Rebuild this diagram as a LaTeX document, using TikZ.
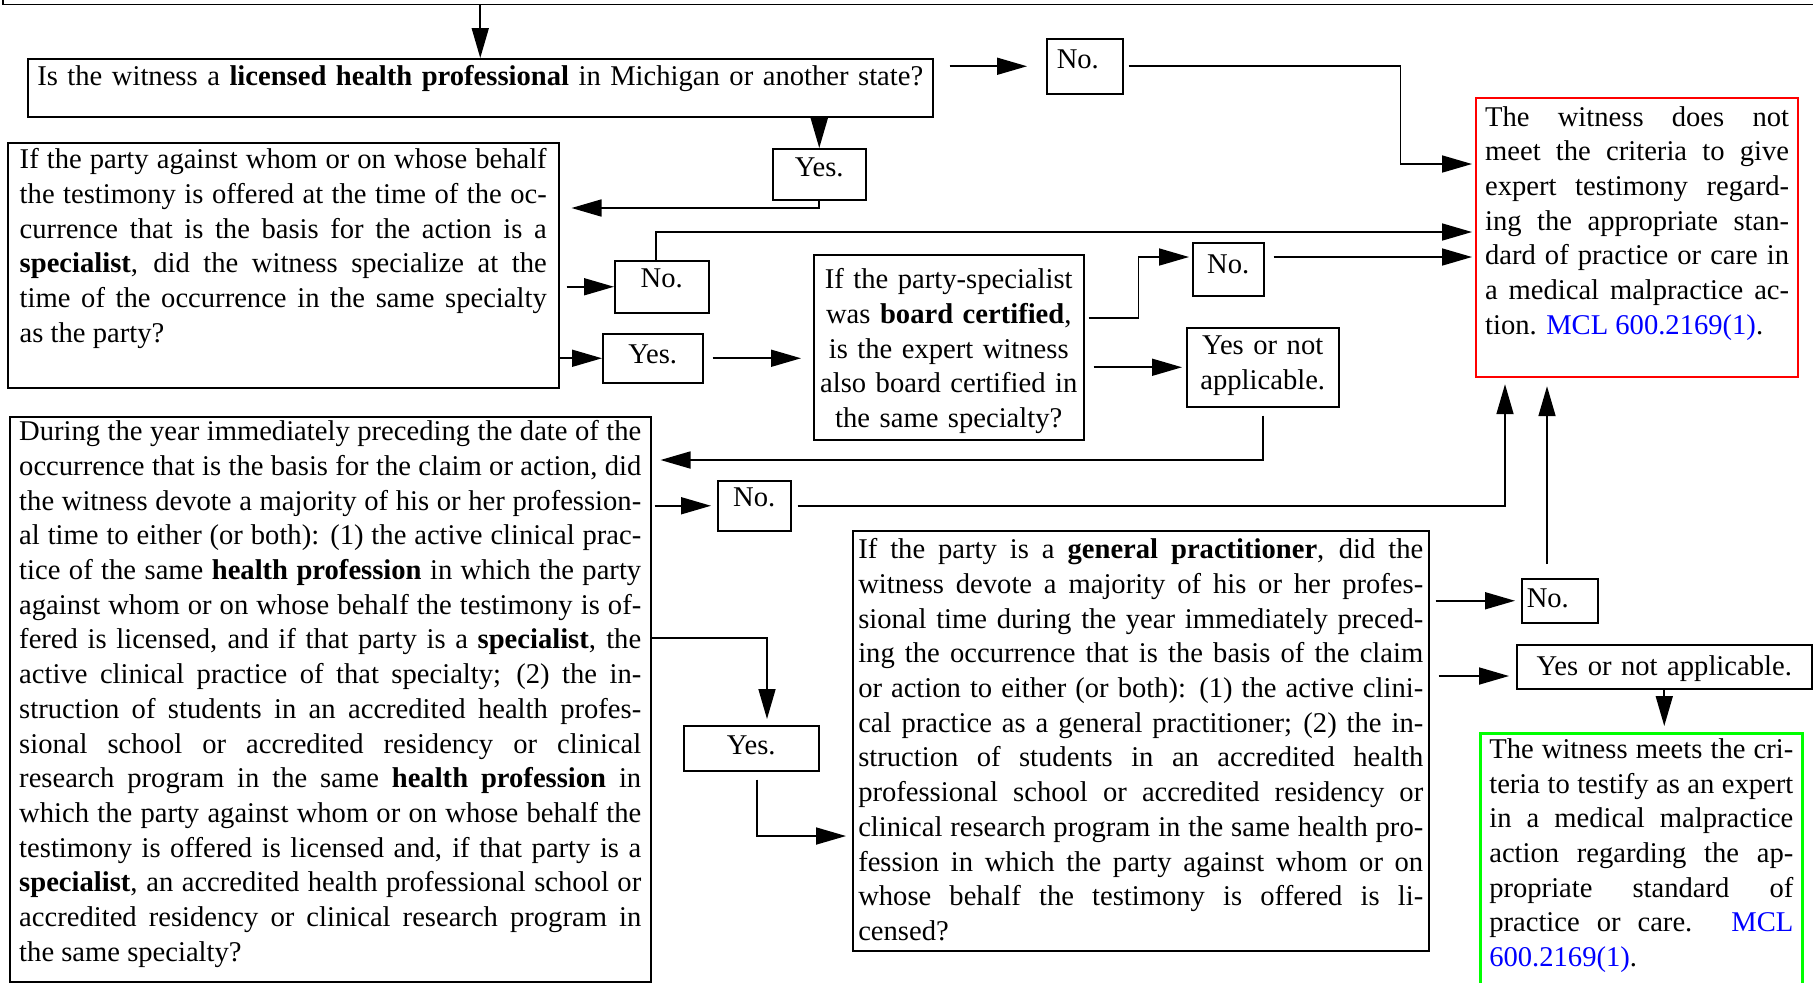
\documentclass[tikz,border=0pt]{standalone}
\usepackage{fontspec}
\setmainfont{Liberation Serif}
\usepackage{xcolor}
\usetikzlibrary{arrows.meta, calc}
\hyphenpenalty=10000

\begin{document}
\begin{tikzpicture}[
                x=0.5pt, y=-0.5pt,
                box/.style={draw, line width=0.75pt, anchor=north west, inner xsep=5pt, inner ysep=0pt, align=justify, font={\fontsize{14.3pt}{17.35pt}\selectfont}},
                arrow/.style={-{Triangle[length=15pt,width=8.5pt]}, line width=0.85pt}
            ]
            \useasboundingbox (0,0) rectangle (1813,982);

            % Top (cut off) box
            \node[box, anchor=south west, minimum width=930pt, minimum height=40pt] (topbox) at (2,5) {};

            % Licence question
            \node[box, align=center, text width=450pt, inner xsep=1.25pt, text height=13.5pt, text depth=15.5pt] (q1) at (27,58) {Is the witness a \textbf{licensed health professional} in Michigan or another state?};
            \node[box, align=left, text width=28pt, text height=15pt, text depth=12.5pt] (no1) at (1046,38) {No.};
            \node[box, align=center, text width=36.5pt, text height=14pt, text depth=11.5pt] (yes1) at (772,148) {Yes.};

            % Result: does not meet the criteria
            \node[box, draw=red, line width=1.1pt, text width=152pt, inner xsep=4.5pt, text height=14pt, text depth=125.5pt] (red) at (1475,97) {The witness does not\linebreak meet the criteria to give\linebreak expert testimony regard-\linebreak ing the appropriate stan-\linebreak dard of practice or care in\linebreak a medical malpractice ac-\linebreak tion. \textcolor{blue}{MCL 600.2169(1)}.};

            % Specialty question
            \node[box, text width=263.5pt, inner xsep=6pt, text height=13pt, text depth=109.5pt] (q2) at (7,142) {If the party against whom or on whose behalf\linebreak the testimony is offered at the time of the oc-\linebreak currence that is the basis for the action is a\linebreak \textbf{specialist}, did the witness specialize at the\linebreak time of the occurrence in the same specialty\linebreak as the party?};
            \node[box, align=center, text width=37pt, text height=13.5pt, text depth=12.5pt] (no2) at (614,260) {No.};
            \node[box, align=center, text width=40pt, text height=15pt, text depth=9.5pt] (yes2) at (602,333) {Yes.};

            % Board certification question
            \node[box, align=center, text width=133pt, inner xsep=1pt, text height=17pt, text depth=75.5pt] (q3) at (813,254) {If the party-specialist\\was \textbf{board certified},\\is the expert witness\\also board certified in\\the same specialty?};
            \node[box, align=center, text width=25.5pt, text height=15.5pt, text depth=11pt] (no3) at (1192,242) {No.};
            \node[box, align=center, text width=66pt, text height=13.5pt, text depth=26pt] (yes3) at (1186,327) {Yes or not\\applicable.};

            % Professional time question
            \node[box, text width=311pt, inner xsep=4.75pt, text height=12pt, text depth=270.5pt] (q4) at (9,416) {During the year immediately preceding the date of the\linebreak occurrence that is the basis for the claim or action, did\linebreak the witness devote a majority of his or her profession-\linebreak al time to either (or both): (1) the active clinical prac-\linebreak tice of the same \textbf{health profession} in which the party\linebreak against whom or on whose behalf the testimony is of-\linebreak fered is licensed, and if that party is a \textbf{specialist}, the\linebreak active clinical practice of that specialty; (2) the in-\linebreak struction of students in an accredited health profes-\linebreak sional school or accredited residency or clinical\linebreak research program in the same \textbf{health profession} in\linebreak which the party against whom or on whose behalf the\linebreak testimony is offered is licensed and, if that party is a\linebreak \textbf{specialist}, an accredited health professional school or\linebreak accredited residency or clinical research program in\linebreak the same specialty?};
            \node[box, align=center, text width=26.5pt, text height=13pt, text depth=12pt] (no4) at (717,480) {No.};
            \node[box, align=center, text width=57.5pt, text height=14.5pt, text depth=8pt] (yes4) at (683,725) {Yes.};

            % General practitioner question
            \node[box, text width=282.5pt, inner xsep=2.75pt, text height=14pt, text depth=196pt] (q5) at (852,530) {If the party is a \textbf{general practitioner}, did the\linebreak witness devote a majority of his or her profes-\linebreak sional time during the year immediately preced-\linebreak ing the occurrence that is the basis of the claim\linebreak or action to either (or both): (1) the active clini-\linebreak cal practice as a general practitioner; (2) the in-\linebreak struction of students in an accredited health\linebreak professional school or accredited residency or\linebreak clinical research program in the same health pro-\linebreak fession in which the party against whom or on\linebreak whose behalf the testimony is offered is li-\linebreak censed?};
            \node[box, align=left, text width=33pt, inner xsep=2.5pt, text height=14.5pt, text depth=7.5pt] (no5) at (1521,578) {No.};
            \node[box, align=center, text width=137.5pt, text height=15.5pt, text depth=6.5pt] (yes5) at (1516,644) {Yes or not applicable.};

            % Result: meets the criteria
            \node[box, draw=green, line width=1.3pt, text width=152pt, inner xsep=4.5pt, text height=12.5pt, text depth=122.5pt] (green) at (1479,732) {The witness meets the cri-\linebreak teria to testify as an expert\linebreak in a medical malpractice\linebreak action regarding the ap-\linebreak propriate standard of\linebreak practice or care. \textcolor{blue}{MCL}\linebreak \textcolor{blue}{600.2169(1)}.};

            % Connections
            \draw[arrow] (q1.north |- topbox.south) -- (q1.north);
            \draw[arrow, shorten <=8pt, shorten >=9.5pt] (q1.east |- no1.west) -- (no1.west);
            \draw[arrow, shorten <=2.5pt, shorten >=1.5pt] (no1.east) -- ++(277,0) |- ($(red.north west)+(0,67)$);
            \draw[arrow] (q1.south -| yes1.north) -- (yes1.north);
            \draw[arrow, shorten >=6pt] (yes1.south) |- ($(q2.north east)+(0,66)$);

            \draw[arrow, shorten <=3.5pt] (q2.east |- no2.west) -- (no2.west);
            \draw[arrow, shorten >=1.5pt] ($(no2.north west)+(42,0)$) |- ($(red.north west)+(0,135)$);
            \draw[arrow] (q2.east |- yes2.west) -- (yes2.west);
            \draw[arrow, shorten <=4.5pt, shorten >=6pt] (yes2.east) -- (yes2.east -| q3.west);

            \draw[arrow, shorten <=2pt, shorten >=1.5pt] ($(q3.north east)+(0,64)$) -- ++(54,0) |- ($(no3.north west)+(0,15)$);
            \draw[arrow, shorten <=4.5pt, shorten >=1.5pt] ($(no3.north east)+(0,15)$) -- ($(red.north west)+(0,160)$);
            \draw[arrow, shorten <=4.5pt, shorten >=2pt] (q3.east |- yes3.west) -- (yes3.west);
            \draw[arrow, shorten <=4pt, shorten >=4.5pt] (yes3.south) |- ($(q4.north east)+(0,44)$);

            \draw[arrow, shorten <=1.5pt, shorten >=3pt] (q4.east |- no4.west) -- (no4.west);
            \draw[arrow, shorten <=3pt, shorten >=3pt] (no4.east) -| ($(red.south west)+(30,0)$);
            \draw[arrow, shorten >=3pt] ($(q4.north east)+(0,222)$) -| ($(yes4.north west)+(84,0)$);
            \draw[arrow, shorten <=4pt, shorten >=3pt] ($(yes4.south west)+(74,0)$) |- ($(q5.north west)+(0,306)$);

            \draw[arrow, shorten <=3pt, shorten >=3pt] (q5.east |- no5.west) -- (no5.west);
            \draw[arrow, shorten <=7pt, shorten >=4pt] ($(no5.north west)+(26,0)$) -- ($(red.south west)+(72,0)$);
            \draw[arrow, shorten <=4.5pt, shorten >=3.5pt] ($(q5.north east)+(0,146)$) -- ($(yes5.north west)+(0,32)$);
            \draw[arrow, shorten >=3pt] (yes5.south) -- (yes5.south |- green.north);
        \end{tikzpicture}
\end{document}
